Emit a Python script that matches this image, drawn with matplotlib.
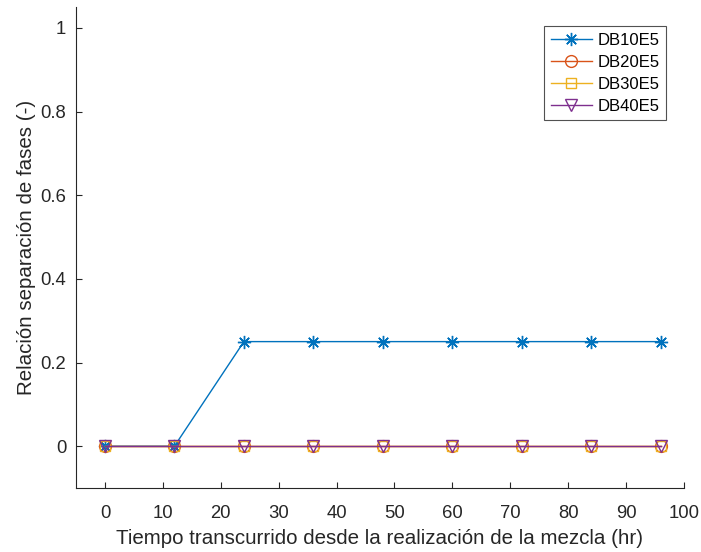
import matplotlib
matplotlib.use("Agg")
import matplotlib.pyplot as plt

plt.rcParams['font.family'] = ['Liberation Sans', 'DejaVu Sans']

hours = [0, 12, 24, 36, 48, 60, 72, 84, 96]
db10e5 = [0, 0, 0.25, 0.25, 0.25, 0.25, 0.25, 0.25, 0.25]
db20e5 = [0, 0, 0, 0, 0, 0, 0, 0, 0]
db30e5 = [0, 0, 0, 0, 0, 0, 0, 0, 0]
db40e5 = [0, 0, 0, 0, 0, 0, 0, 0, 0]
series_names = ['DB10E5', 'DB20E5', 'DB30E5', 'DB40E5']
xticks = [0, 10, 20, 30, 40, 50, 60, 70, 80, 90, 100]
yticks = [0, 0.2, 0.4, 0.6, 0.8, 1]
ytick_labels = ['0', '0.2', '0.4', '0.6', '0.8', '1']

fig = plt.figure(figsize=(7.01, 5.52), dpi=100)
ax = fig.add_axes([76/701, 1-488/552, (684-76)/701, (488-7)/552])

colors = ['#0072BD', '#D95319', '#EDB120', '#7E2F8E']
markers = [(8, 2, 0), 'o', 's', 'v']
msizes = [9.5, 8.5, 7.5, 9]
for ys, name, c, m, ms in zip([db10e5, db20e5, db30e5, db40e5], series_names, colors, markers, msizes):
    ax.plot(hours, ys, color=c, marker=m, markersize=ms, markerfacecolor='none',
            markeredgecolor=c, markeredgewidth=1.0, linewidth=1.0, label=name)

ax.set_xlim(-5, 100)
ax.set_ylim(-0.1, 1.05)
ax.set_xticks(xticks)
ax.set_yticks(yticks)
ax.set_yticklabels(ytick_labels)
for s in ['top', 'right']:
    ax.spines[s].set_visible(False)
for s in ['left', 'bottom']:
    ax.spines[s].set_color('#262626')
    ax.spines[s].set_linewidth(0.8)
ax.tick_params(direction='in', length=4.5, width=0.8, colors='#262626',
               labelsize=13.3, labelcolor='#262626')
ax.tick_params(axis='x', pad=12)
ax.tick_params(axis='y', pad=7)
ax.set_xlabel('Tiempo transcurrido desde la realización de la mezcla (hr)', fontsize=14.8, color='#262626', labelpad=5)
ax.set_ylabel('Relación separación de fases (-)', fontsize=14.8, color='#262626', labelpad=3)

leg = ax.legend(loc='upper right', bbox_to_anchor=(666/701, 1-26/552), bbox_transform=fig.transFigure,
                fontsize=12, frameon=True, fancybox=False, borderpad=0.4, handlelength=2.5,
                handletextpad=0.3, labelspacing=0.42, borderaxespad=0)
leg.get_frame().set_edgecolor('#262626')
leg.get_frame().set_linewidth(0.8)

fig.savefig('out.png', dpi=100)
